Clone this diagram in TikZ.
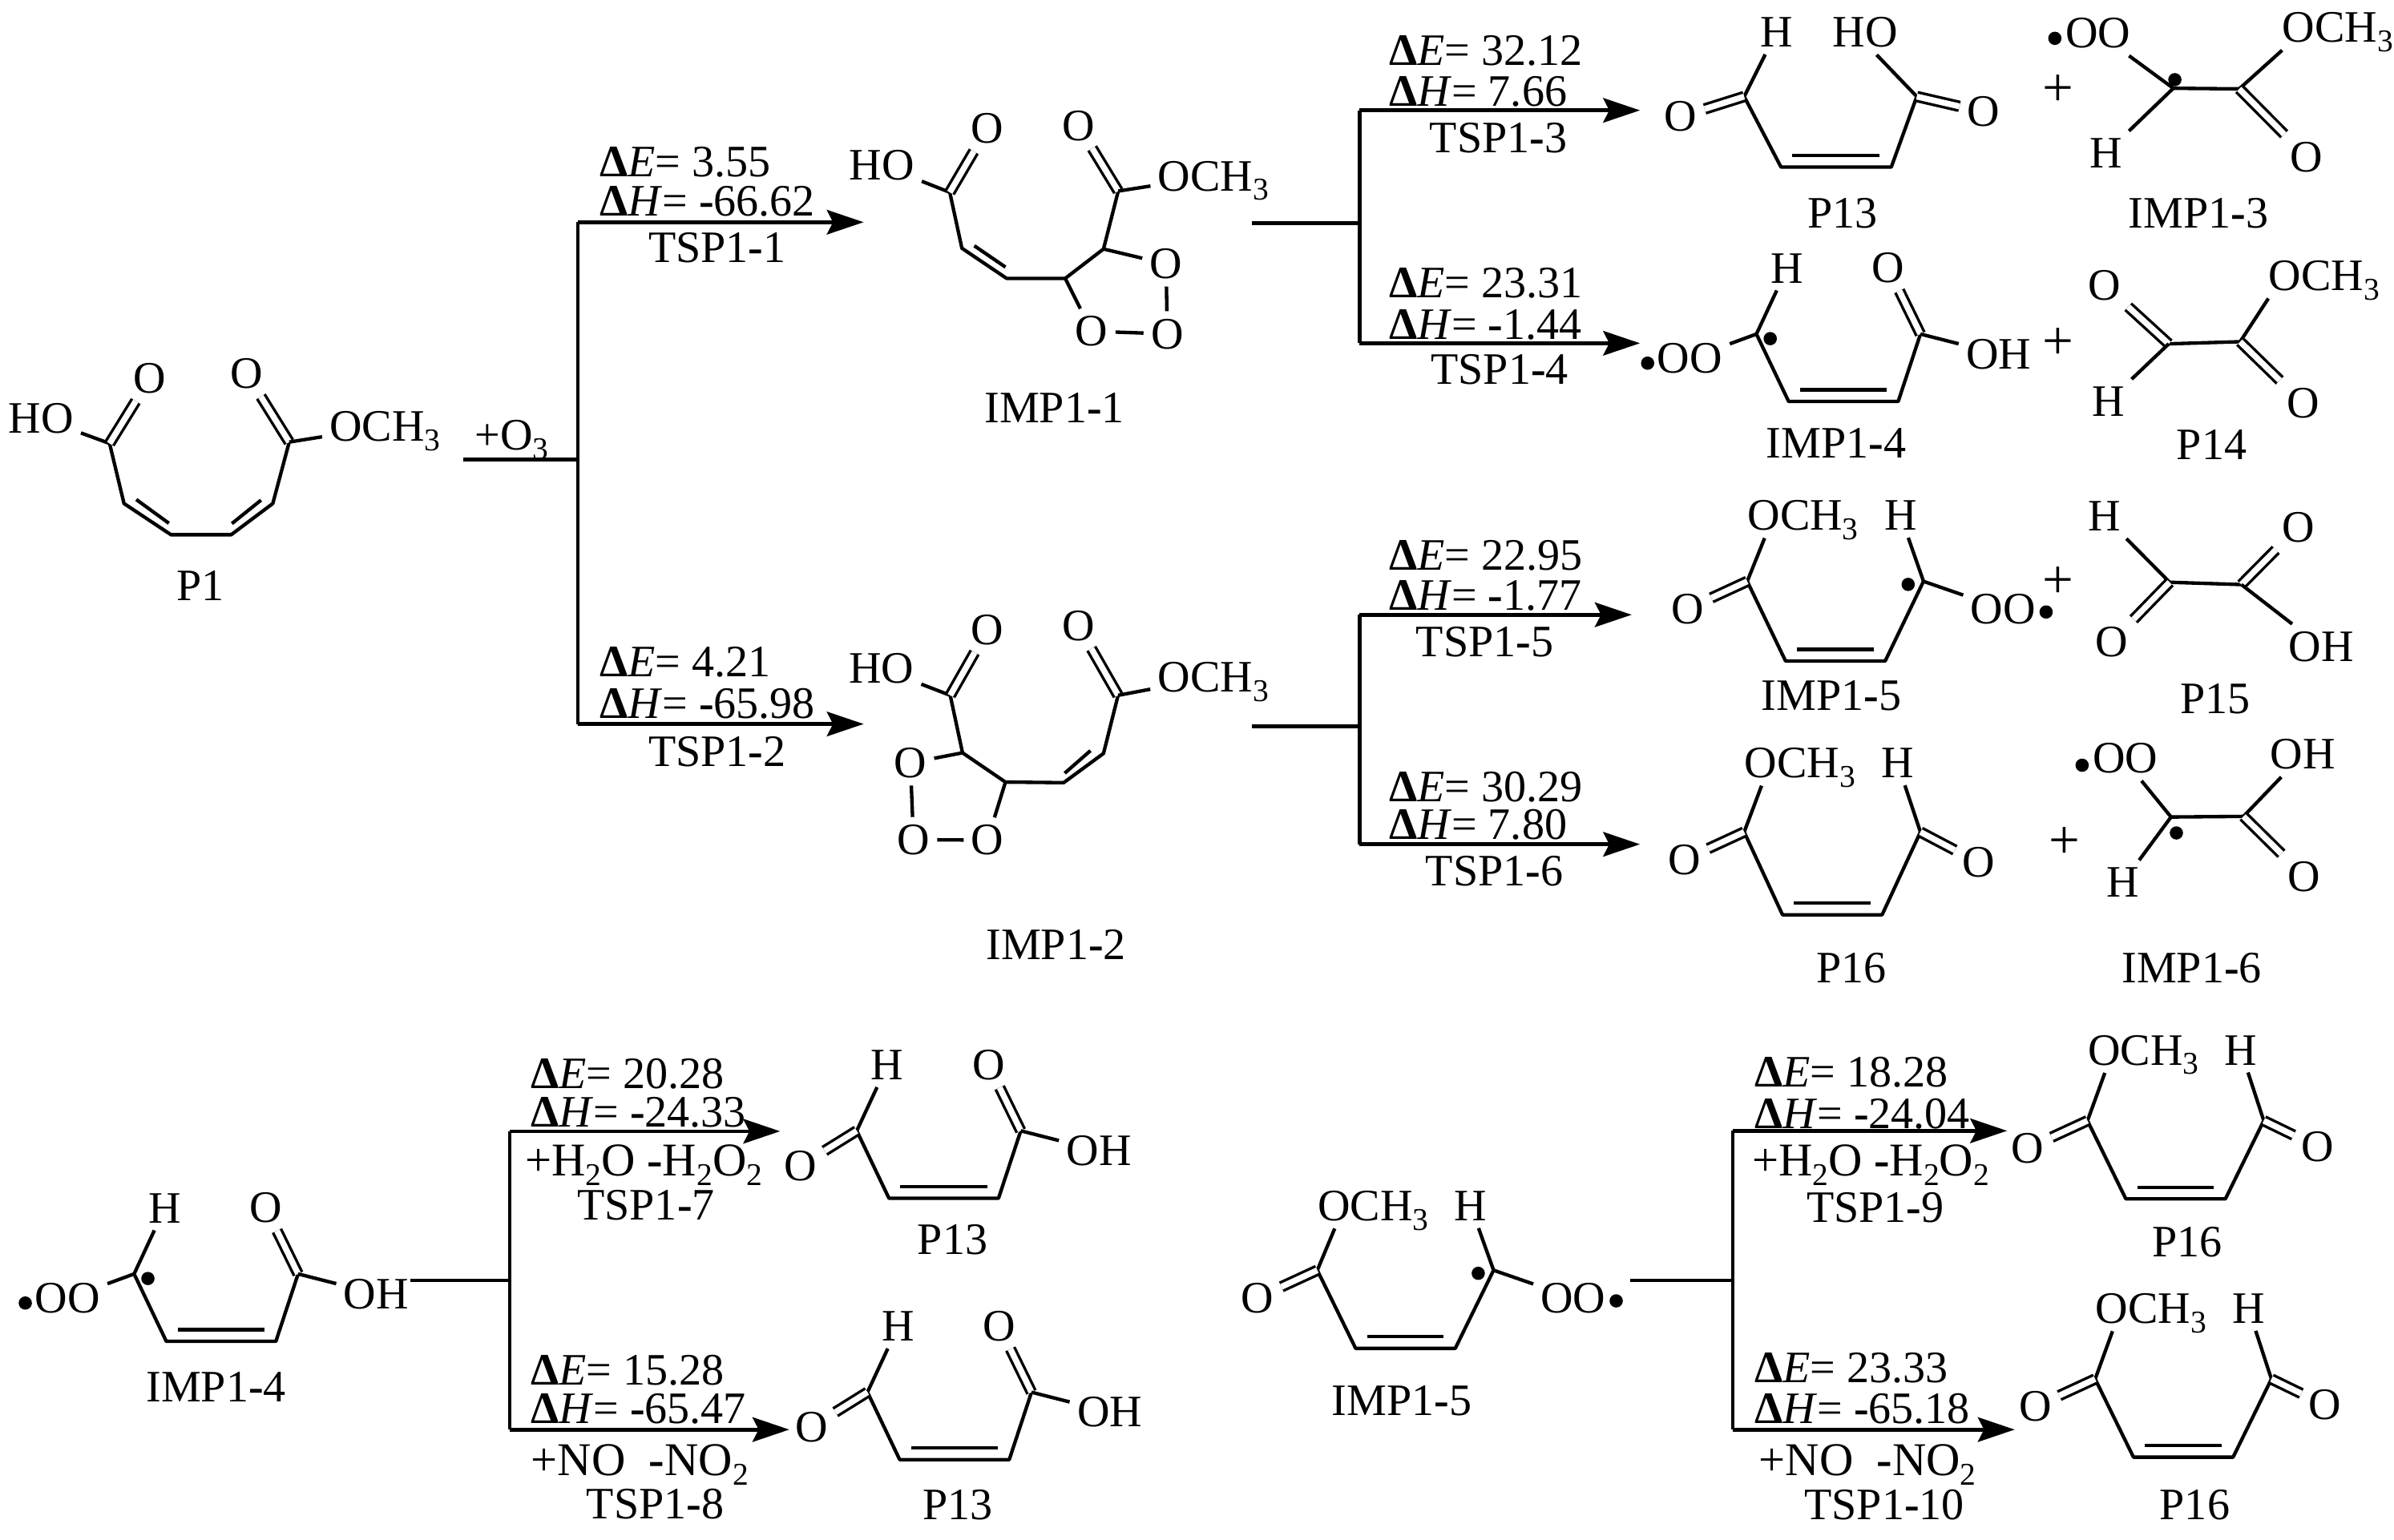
\documentclass[tikz,border=0pt]{standalone}
\usepackage{fontspec}
\setmainfont{Liberation Serif}
\usetikzlibrary{arrows.meta}

\tikzset{
  bond/.style={line width=1.7pt,line join=round},
  dblbond/.style={line width=1.35pt,double,double distance=2.9pt},
  rline/.style={line width=1.8pt},
  rxn/.style={line width=1.8pt,-{Stealth[length=18pt,width=12pt,inset=3pt]}},
  atom/.style={inner sep=3.5pt},
  chemw/.style={atom,anchor=west,xshift=-3.5pt},
  lab/.style={inner sep=0pt},
  pluslab/.style={inner sep=0pt,font=\fontsize{27}{27}\selectfont},
  addlab/.style={inner sep=0pt,font=\fontsize{23}{26}\selectfont},
  radical/.style={circle,fill=black,inner sep=0pt,minimum size=6.5pt}
}

\newcommand{\low}[1]{\smash{\raisebox{-4.6pt}{\fontsize{15.5}{16}\selectfont #1}}}
\newcommand{\hy}{\textbf{-}}

% reaction label over and under an arrow
\newcommand{\rxnlabel}[9]{
  \node[lab,anchor=west] (#1-e) at (#2,#3) {\textbf{Δ}\textit{E}= #4};
  \node[lab,anchor=west] (#1-h) at (#2,#5) {\textbf{Δ}\textit{H}= #6};
  \node[lab] (#1-t) at (#7,#8) {#9};
}

% four carbon chain, body is drawn relative to the first carbon
\newcommand{\chainat}[8]{
  \begin{scope}[shift={(#2,#3)},name prefix=#1-]
    \coordinate (a) at (0,0);
    \coordinate (b) at (#4,#7);
    \coordinate (c) at (#5,#7);
    \coordinate (d) at (#6,0);
    \draw[bond] (a) -- (b) -- (c) -- (d);
    \coordinate (ib) at ({#4+7.5},{#7-7.6});
    \coordinate (ic) at ({#5-7.5},{#7-7.6});
    \draw[bond] (ib) -- (ic);
    #8
  \end{scope}
}

% chain with OCH3, H and a left C=O
\newcommand{\mechain}[6]{
  \chainat{#1}{#2}{#3}{25}{90}{115}{#4}{
    \node[chemw] (me) at (0,#5) {OCH\low{3}};
    \node[atom] (h) at (100,#5) {H};
    \node[atom] (ol) at (-39,18) {O};
    \draw[bond] (a) -- ([xshift=12pt]me.south west);
    \draw[bond] (d) -- (h);
    \draw[dblbond] (a) -- (ol);
    #6
  }
}

% chain with H on the left carbon and COOH on the right
\newcommand{\acidchain}[4]{
  \chainat{#1}{#2}{#3}{21}{92.5}{107}{44}{
    \node[atom] (h) at (20,-43) {H};
    \node[atom] (ot) at (86,-43) {O};
    \node[atom] (oh) at (158,13) {OH};
    \draw[bond] (a) -- (h);
    \draw[dblbond] (d) -- (ot);
    \draw[bond] (d) -- (oh);
    #4
  }
}

\newcommand{\peroxyleft}{
  \node[atom] (oo) at (-43.5,16) {OO};
  \node[radical] (ra) at (-71,19) {};
  \node[radical] (rb) at (9,3) {};
  \draw[bond] (a) -- (oo);
}

\newcommand{\peroxyright}{
  \node[atom] (oo) at (167,18) {OO};
  \node[radical] (ra) at (195,20) {};
  \node[radical] (rb) at (105,2) {};
  \draw[bond] (d) -- (oo);
}

\begin{document}
\begin{tikzpicture}[x=0.75pt,y=0.75pt,yscale=-1,xscale=1,font=\fontsize{22}{26}\selectfont]
\useasboundingbox (0,0) rectangle (1562,1004.6);

% P1
\coordinate (p1a) at (71.5,289.4);
\coordinate (p1b) at (80.9,328.6);
\coordinate (p1c) at (111.6,349);
\coordinate (p1d) at (150.8,349);
\coordinate (p1e) at (178,328.6);
\coordinate (p1f) at (188.7,288.5);
\coordinate (p1g) at (88.9,326);
\coordinate (p1h) at (110.2,341.5);
\coordinate (p1i) at (170.3,326.4);
\coordinate (p1j) at (151.3,341.7);
\node[atom] (p1ho) at (26.7,273) {HO};
\node[atom] (p1ol) at (97.7,247) {O};
\node[atom] (p1or) at (161,244) {O};
\node[chemw] (p1me) at (214.8,278.5) {OCH\low{3}};
\node[lab] (p1lab) at (130.8,382) {P1};
\draw[bond] (p1a) -- (p1b) -- (p1c) -- (p1d) -- (p1e) -- (p1f);
\draw[bond] (p1g) -- (p1h);
\draw[bond] (p1i) -- (p1j);
\draw[bond] (p1a) -- (p1ho);
\draw[dblbond] (p1a) -- (p1ol);
\draw[dblbond] (p1f) -- (p1or);
\draw[bond] (p1f) -- (p1me);

% IMP1-1
\coordinate (i1a) at (619.7,125.5);
\coordinate (i1b) at (627.6,162);
\coordinate (i1c) at (656.8,181.7);
\coordinate (i1d) at (695,181.7);
\coordinate (i1e) at (720,162.5);
\coordinate (i1f) at (729.6,124.7);
\coordinate (i1g) at (635.7,160.4);
\coordinate (i1h) at (656,174.3);
\node[atom] (i1ho) at (575.3,108) {HO};
\node[atom] (i1ol) at (644,84) {O};
\node[atom] (i1or) at (703.6,82) {O};
\node[chemw] (i1me) at (755.3,115) {OCH\low{3}};
\node[atom] (i1ra) at (760.8,172.2) {O};
\node[atom] (i1rb) at (761.6,217.9) {O};
\node[atom] (i1rc) at (712.3,216.2) {O};
\node[lab] (i1lab) at (688,266) {IMP1\hy 1};
\draw[bond] (i1a) -- (i1b) -- (i1c) -- (i1d) -- (i1e) -- (i1f);
\draw[bond] (i1g) -- (i1h);
\draw[bond] (i1a) -- (i1ho);
\draw[dblbond] (i1a) -- (i1ol);
\draw[dblbond] (i1f) -- (i1or);
\draw[bond] (i1f) -- (i1me);
\draw[bond] (i1e) -- (i1ra);
\draw[bond] (i1ra) -- (i1rb);
\draw[bond] (i1rb) -- (i1rc);
\draw[bond] (i1rc) -- (i1d);

% IMP1-2
\coordinate (i2a) at (620,453.8);
\coordinate (i2b) at (628,491.3);
\coordinate (i2c) at (656,510.4);
\coordinate (i2d) at (694,510.8);
\coordinate (i2e) at (720,491.7);
\coordinate (i2f) at (729.5,453.8);
\coordinate (i2g) at (711.5,489.9);
\coordinate (i2h) at (694.7,504.6);
\node[atom] (i2ho) at (575,436.4) {HO};
\node[atom] (i2ol) at (644.3,411) {O};
\node[atom] (i2or) at (703.6,408.5) {O};
\node[chemw] (i2me) at (755.2,442) {OCH\low{3}};
\node[atom] (i2ra) at (594,497.9) {O};
\node[atom] (i2rb) at (596,548) {O};
\node[atom] (i2rc) at (644.3,548.3) {O};
\node[lab] (i2lab) at (689,616.6) {IMP1\hy 2};
\draw[bond] (i2a) -- (i2b) -- (i2c) -- (i2d) -- (i2e) -- (i2f);
\draw[bond] (i2g) -- (i2h);
\draw[bond] (i2a) -- (i2ho);
\draw[dblbond] (i2a) -- (i2ol);
\draw[dblbond] (i2f) -- (i2or);
\draw[bond] (i2f) -- (i2me);
\draw[bond] (i2b) -- (i2ra);
\draw[bond] (i2ra) -- (i2rb);
\draw[bond] (i2rb) -- (i2rc);
\draw[bond] (i2rc) -- (i2c);

% first branch
\coordinate (o3in) at (302.4,300);
\coordinate (o3j) at (377,300);
\coordinate (o3up) at (377,145);
\coordinate (o3dn) at (377,472.5);
\coordinate (tip1) at (563.5,145);
\coordinate (tip2) at (563.5,472.5);
\node[lab] (o3lab) at (334,284) {+O\low{3}};
\draw[rline] (o3in) -- (o3j);
\draw[rline] (o3up) -- (o3dn);
\draw[rxn] (o3up) -- (tip1);
\draw[rxn] (o3dn) -- (tip2);
\rxnlabel{ts1}{391}{105.6}{3.55}{131.6}{\hy 66.62}{468}{161.8}{TSP1\hy 1}
\rxnlabel{ts2}{391}{432}{4.21}{459.4}{\hy 65.98}{468}{490.4}{TSP1\hy 2}

% upper branch
\coordinate (u-in) at (817,145.5);
\coordinate (u-j) at (887,145.5);
\coordinate (u-up) at (887,72);
\coordinate (u-dn) at (887,224);
\coordinate (tip3) at (1070,72);
\coordinate (tip4) at (1070,224);
\draw[rline] (u-in) -- (u-j);
\draw[rline] (u-up) -- (u-dn);
\draw[rxn] (u-up) -- (tip3);
\draw[rxn] (u-dn) -- (tip4);
\rxnlabel{ts3}{906}{33}{32.12}{60}{7.66}{977.6}{90}{TSP1\hy 3}
\rxnlabel{ts4}{906}{185}{23.31}{212}{\hy 1.44}{978.5}{241}{TSP1\hy 4}

% lower branch
\coordinate (l-in) at (817,474);
\coordinate (l-j) at (887,474);
\coordinate (l-up) at (887,401.2);
\coordinate (l-dn) at (887,551);
\coordinate (tip5) at (1064.6,401.2);
\coordinate (tip6) at (1070,551);
\draw[rline] (l-in) -- (l-j);
\draw[rline] (l-up) -- (l-dn);
\draw[rxn] (l-up) -- (tip5);
\draw[rxn] (l-dn) -- (tip6);
\rxnlabel{ts5}{906}{362.8}{22.95}{388.7}{\hy 1.77}{968.7}{419}{TSP1\hy 5}
\rxnlabel{ts6}{906}{513.5}{30.29}{538.4}{7.80}{975}{568.6}{TSP1\hy 6}

% P13 top
\chainat{p13a}{1138}{63}{24}{96}{112.6}{46}{
  \node[atom] (h) at (21,-42) {H};
  \node[atom] (ho) at (79,-42) {HO};
  \node[atom] (ol) at (-41.3,13) {O};
  \node[atom] (or) at (156,10) {O};
  \draw[bond] (a) -- (h);
  \draw[bond] (d) -- ([xshift=-14pt]ho.south east);
  \draw[dblbond] (a) -- (ol);
  \draw[dblbond] (d) -- (or);
}
\node[lab] (p13alab) at (1202.4,139) {P13};
\node[pluslab] (plus1) at (1343,59) {+};

% IMP1-3
\coordinate (i3a) at (1418,57.6);
\coordinate (i3b) at (1461,58);
\node[radical] (i3ra) at (1340.7,25) {};
\node[radical] (i3rb) at (1419,52) {};
\node[atom] (i3oo) at (1369,21.6) {OO};
\node[chemw] (i3me) at (1489,18) {OCH\low{3}};
\node[atom] (i3h) at (1374,100) {H};
\node[atom] (i3o) at (1505,102.4) {O};
\node[lab] (i3lab) at (1434.4,139) {IMP1\hy 3};
\draw[bond] (i3a) -- (i3b);
\draw[bond] (i3a) -- (i3oo);
\draw[bond] (i3a) -- (i3h);
\draw[bond] (i3b) -- ([xshift=3.5pt]i3me.south west);
\draw[dblbond] (i3b) -- (i3o);

% IMP1-4 top
\acidchain{i4a}{1146}{218}{\peroxyleft}
\node[lab] (i4alab) at (1198,289) {IMP1\hy 4};
\node[pluslab] (plus2) at (1343,224.4) {+};

% P14
\coordinate (p14a) at (1415,224.4);
\coordinate (p14b) at (1461.6,223);
\node[atom] (p14ol) at (1373,186) {O};
\node[chemw] (p14me) at (1480,180) {OCH\low{3}};
\node[atom] (p14h) at (1375.5,262) {H};
\node[atom] (p14o) at (1502.6,263) {O};
\node[lab] (p14lab) at (1443,290) {P14};
\draw[bond] (p14a) -- (p14b);
\draw[dblbond] (p14a) -- (p14ol);
\draw[bond] (p14a) -- (p14h);
\draw[bond] (p14b) -- ([xshift=3.5pt]p14me.south west);
\draw[dblbond] (p14b) -- (p14o);

% IMP1-5 top
\mechain{i5a}{1140}{379.4}{52}{-43}{\peroxyright}
\node[lab] (i5alab) at (1195,454) {IMP1\hy 5};
\node[pluslab] (plus3) at (1343,380) {+};

% P15
\coordinate (p15a) at (1415.6,380);
\coordinate (p15b) at (1462.4,381.5);
\node[atom] (p15h) at (1373,337) {H};
\node[atom] (p15ot) at (1499.5,344) {O};
\node[atom] (p15ol) at (1377.7,419) {O};
\node[atom] (p15oh) at (1514.6,422) {OH};
\node[lab] (p15lab) at (1445.5,456.3) {P15};
\draw[bond] (p15a) -- (p15b);
\draw[bond] (p15a) -- (p15h);
\draw[dblbond] (p15a) -- (p15ol);
\draw[dblbond] (p15b) -- (p15ot);
\draw[bond] (p15b) -- (p15oh);

% P16 top
\mechain{p16a}{1138}{543}{54}{-45}{
  \node[atom] (or) at (153,20) {O};
  \draw[dblbond] (d) -- (or);
}
\node[lab] (p16alab) at (1208,632) {P16};
\node[pluslab] (plus4) at (1347,550) {+};

% IMP1-6
\coordinate (i6a) at (1416.5,533.2);
\coordinate (i6b) at (1463.8,532.8);
\node[radical] (i6ra) at (1358.5,499.4) {};
\node[radical] (i6rb) at (1420,543.6) {};
\node[atom] (i6oo) at (1386.6,494.8) {OO};
\node[atom] (i6oh) at (1502.6,492.3) {OH};
\node[atom] (i6h) at (1385,575.9) {H};
\node[atom] (i6o) at (1503.5,572) {O};
\node[lab] (i6lab) at (1430,632) {IMP1\hy 6};
\draw[bond] (i6a) -- (i6b);
\draw[bond] (i6a) -- ([xshift=8pt]i6oo.south);
\draw[bond] (i6a) -- (i6h);
\draw[bond] (i6b) -- (i6oh);
\draw[dblbond] (i6b) -- (i6o);

% IMP1-4 bottom
\acidchain{i4b}{87.5}{831.4}{\peroxyleft}
\node[lab] (i4blab) at (141,905) {IMP1\hy 4};
\coordinate (bl-in) at (267.5,835.7);
\coordinate (bl-j) at (332.5,835.7);
\coordinate (bl-up) at (332.5,738.3);
\coordinate (bl-dn) at (332.5,933);
\coordinate (tip7) at (509,738.3);
\coordinate (tip8) at (515,933);
\draw[rline] (bl-in) -- (bl-j);
\draw[rline] (bl-up) -- (bl-dn);
\draw[rxn] (bl-up) -- (tip7);
\draw[rxn] (bl-dn) -- (tip8);
\rxnlabel{ts7}{346}{701}{20.28}{726}{\hy 24.33}{421.5}{786.8}{TSP1\hy 7}
\rxnlabel{ts8}{346}{894.4}{15.28}{919.4}{\hy 65.47}{427.5}{981.4}{TSP1\hy 8}
\node[addlab] (ts7add) at (420,757.5) {+H\low{2}O \hy H\low{2}O\low{2}};
\node[addlab] (ts8add) at (417.5,953) {+NO\ \ \hy NO\low{2}};

% P13 bottom
\acidchain{p13b}{559}{738}{
  \node[atom] (ol) at (-36.5,22.7) {O};
  \draw[dblbond] (a) -- (ol);
}
\node[lab] (p13blab) at (621.5,809) {P13};
\acidchain{p13c}{566}{908.6}{
  \node[atom] (ol) at (-36.5,22.7) {O};
  \draw[dblbond] (a) -- (ol);
}
\node[lab] (p13clab) at (625,982) {P13};

% IMP1-5 bottom
\mechain{i5b}{859.5}{829}{51}{-42}{\peroxyright}
\node[lab] (i5blab) at (914.5,914) {IMP1\hy 5};
\coordinate (br-in) at (1063.5,835.7);
\coordinate (br-j) at (1130.5,835.7);
\coordinate (br-up) at (1130.5,738);
\coordinate (br-dn) at (1130.5,933);
\coordinate (tip9) at (1309.5,738);
\coordinate (tip10) at (1314.5,933);
\draw[rline] (br-in) -- (br-j);
\draw[rline] (br-up) -- (br-dn);
\draw[rxn] (br-up) -- (tip9);
\draw[rxn] (br-dn) -- (tip10);
\rxnlabel{ts9}{1144.5}{700}{18.28}{727}{\hy 24.04}{1223.5}{788}{TSP1\hy 9}
\rxnlabel{ts10}{1144.5}{893}{23.33}{919.4}{\hy 65.18}{1229.5}{982}{TSP1\hy 10}
\node[addlab] (ts9add) at (1220.5,757.5) {+H\low{2}O \hy H\low{2}O\low{2}};
\node[addlab] (ts10add) at (1218.5,953) {+NO\ \ \hy NO\low{2}};

% P16 bottom
\mechain{p16b}{1362}{731.4}{51}{-46}{
  \node[atom] (or) at (150,17) {O};
  \draw[dblbond] (d) -- (or);
}
\node[lab] (p16blab) at (1427,810.7) {P16};
\mechain{p16c}{1367}{900}{51}{-46}{
  \node[atom] (or) at (150,17) {O};
  \draw[dblbond] (d) -- (or);
}
\node[lab] (p16clab) at (1432,982) {P16};

\end{tikzpicture}
\end{document}
